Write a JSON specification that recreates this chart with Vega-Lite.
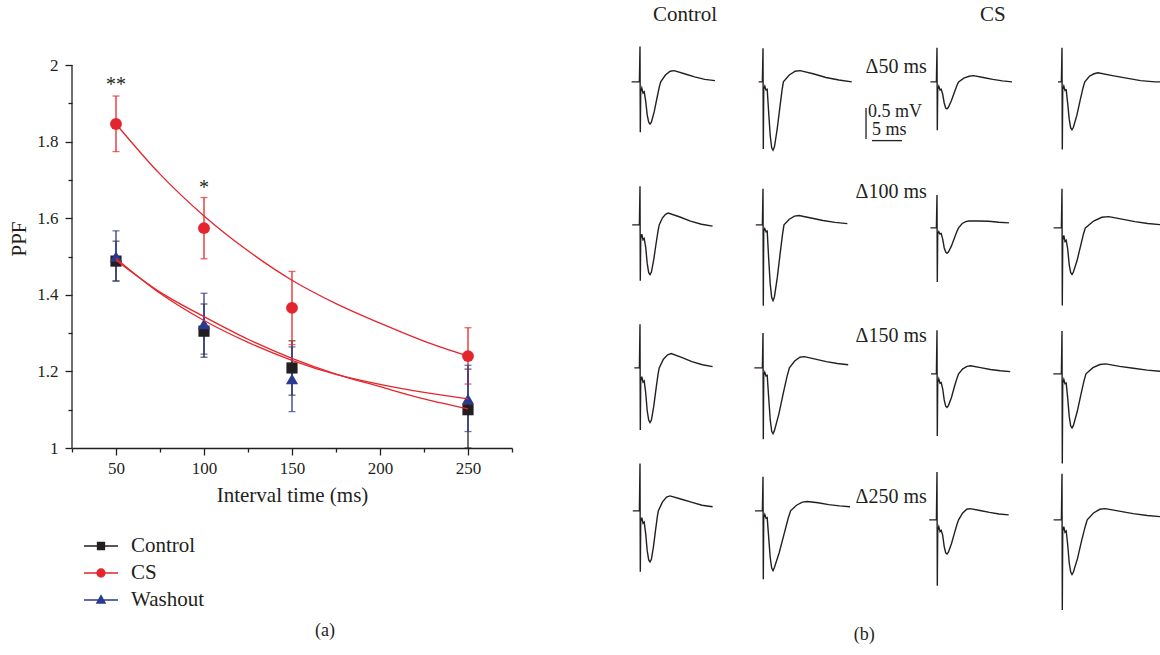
{
"$schema": "https://vega.github.io/schema/vega-lite/v6.json",
"background": "white",
"padding": {"left": 8, "top": 4, "right": 0, "bottom": 0},
"datasets": {
"pts": [
{"s":"Control","x":50,"y":1.488,"lo":1.436,"hi":1.54},
{"s":"Control","x":100,"y":1.305,"lo":1.237,"hi":1.376},
{"s":"Control","x":150,"y":1.209,"lo":1.138,"hi":1.28},
{"s":"Control","x":250,"y":1.1,"lo":1.0,"hi":1.206},
{"s":"CS","x":50,"y":1.846,"lo":1.774,"hi":1.919},
{"s":"CS","x":100,"y":1.574,"lo":1.494,"hi":1.654},
{"s":"CS","x":150,"y":1.366,"lo":1.27,"hi":1.461},
{"s":"CS","x":250,"y":1.24,"lo":1.167,"hi":1.314},
{"s":"Washout","x":50,"y":1.5,"lo":1.436,"hi":1.567},
{"s":"Washout","x":100,"y":1.324,"lo":1.245,"hi":1.404},
{"s":"Washout","x":150,"y":1.18,"lo":1.095,"hi":1.264},
{"s":"Washout","x":250,"y":1.128,"lo":1.043,"hi":1.216}
],
"fit": [
{"s":"CS","x":50,"y":1.846},{"s":"CS","x":75,"y":1.715},{"s":"CS","x":100,"y":1.606},{"s":"CS","x":125,"y":1.515},{"s":"CS","x":150,"y":1.438},{"s":"CS","x":175,"y":1.377},{"s":"CS","x":200,"y":1.326},{"s":"CS","x":225,"y":1.279},{"s":"CS","x":250,"y":1.24},
{"s":"Control","x":50,"y":1.49},{"s":"Control","x":75,"y":1.407},{"s":"Control","x":100,"y":1.343},{"s":"Control","x":125,"y":1.284},{"s":"Control","x":150,"y":1.234},{"s":"Control","x":175,"y":1.193},{"s":"Control","x":200,"y":1.16},{"s":"Control","x":225,"y":1.128},{"s":"Control","x":250,"y":1.102},
{"s":"Washout","x":50,"y":1.495},{"s":"Washout","x":75,"y":1.404},{"s":"Washout","x":100,"y":1.333},{"s":"Washout","x":125,"y":1.276},{"s":"Washout","x":150,"y":1.229},{"s":"Washout","x":175,"y":1.192},{"s":"Washout","x":200,"y":1.166},{"s":"Washout","x":225,"y":1.145},{"s":"Washout","x":250,"y":1.128}
],
"ann": [
{"x":50,"y":1.948,"txt":"**"},
{"x":100,"y":1.68,"txt":"*"}
],
"ctl": [
{"iv":"Δ50 ms","p":"1","t":-1.4,"v":0},{"iv":"Δ50 ms","p":"1","t":-0.1,"v":0},{"iv":"Δ50 ms","p":"1","t":0,"v":0.57},{"iv":"Δ50 ms","p":"1","t":0.05,"v":-0.81},{"iv":"Δ50 ms","p":"1","t":0.12,"v":-0.16},{"iv":"Δ50 ms","p":"1","t":0.3,"v":-0.1},{"iv":"Δ50 ms","p":"1","t":0.5,"v":-0.18},{"iv":"Δ50 ms","p":"1","t":0.7,"v":-0.16},{"iv":"Δ50 ms","p":"1","t":0.95,"v":-0.31},{"iv":"Δ50 ms","p":"1","t":1.2,"v":-0.53},{"iv":"Δ50 ms","p":"1","t":1.45,"v":-0.65},{"iv":"Δ50 ms","p":"1","t":1.67,"v":-0.68},{"iv":"Δ50 ms","p":"1","t":1.9,"v":-0.65},{"iv":"Δ50 ms","p":"1","t":2.37,"v":-0.48},{"iv":"Δ50 ms","p":"1","t":2.83,"v":-0.26},{"iv":"Δ50 ms","p":"1","t":3.22,"v":-0.08},{"iv":"Δ50 ms","p":"1","t":3.45,"v":0},{"iv":"Δ50 ms","p":"1","t":4.24,"v":0.11},{"iv":"Δ50 ms","p":"1","t":5.03,"v":0.17},{"iv":"Δ50 ms","p":"1","t":5.7,"v":0.18},{"iv":"Δ50 ms","p":"1","t":7.4,"v":0.13},{"iv":"Δ50 ms","p":"1","t":9.1,"v":0.08},{"iv":"Δ50 ms","p":"1","t":10.8,"v":0.04},{"iv":"Δ50 ms","p":"1","t":12.5,"v":0.02},
{"iv":"Δ50 ms","p":"2","t":-0.73,"v":0},{"iv":"Δ50 ms","p":"2","t":-0.1,"v":0},{"iv":"Δ50 ms","p":"2","t":0,"v":0.54},{"iv":"Δ50 ms","p":"2","t":0.05,"v":-1.08},{"iv":"Δ50 ms","p":"2","t":0.12,"v":-0.12},{"iv":"Δ50 ms","p":"2","t":0.3,"v":-0.07},{"iv":"Δ50 ms","p":"2","t":0.5,"v":-0.13},{"iv":"Δ50 ms","p":"2","t":0.7,"v":-0.12},{"iv":"Δ50 ms","p":"2","t":0.95,"v":-0.5},{"iv":"Δ50 ms","p":"2","t":1.2,"v":-0.86},{"iv":"Δ50 ms","p":"2","t":1.45,"v":-1.06},{"iv":"Δ50 ms","p":"2","t":1.67,"v":-1.1},{"iv":"Δ50 ms","p":"2","t":1.9,"v":-1.05},{"iv":"Δ50 ms","p":"2","t":2.35,"v":-0.77},{"iv":"Δ50 ms","p":"2","t":2.8,"v":-0.42},{"iv":"Δ50 ms","p":"2","t":3.18,"v":-0.13},{"iv":"Δ50 ms","p":"2","t":3.4,"v":0},{"iv":"Δ50 ms","p":"2","t":4.38,"v":0.11},{"iv":"Δ50 ms","p":"2","t":5.36,"v":0.17},{"iv":"Δ50 ms","p":"2","t":6.2,"v":0.18},{"iv":"Δ50 ms","p":"2","t":8.35,"v":0.13},{"iv":"Δ50 ms","p":"2","t":10.5,"v":0.07},{"iv":"Δ50 ms","p":"2","t":12.65,"v":0.03},{"iv":"Δ50 ms","p":"2","t":14.8,"v":0},
{"iv":"Δ100 ms","p":"1","t":-1.3,"v":0},{"iv":"Δ100 ms","p":"1","t":-0.1,"v":0},{"iv":"Δ100 ms","p":"1","t":0,"v":0.62},{"iv":"Δ100 ms","p":"1","t":0.05,"v":-0.9},{"iv":"Δ100 ms","p":"1","t":0.12,"v":-0.22},{"iv":"Δ100 ms","p":"1","t":0.3,"v":-0.15},{"iv":"Δ100 ms","p":"1","t":0.5,"v":-0.24},{"iv":"Δ100 ms","p":"1","t":0.7,"v":-0.22},{"iv":"Δ100 ms","p":"1","t":0.95,"v":-0.36},{"iv":"Δ100 ms","p":"1","t":1.2,"v":-0.62},{"iv":"Δ100 ms","p":"1","t":1.45,"v":-0.77},{"iv":"Δ100 ms","p":"1","t":1.67,"v":-0.8},{"iv":"Δ100 ms","p":"1","t":1.9,"v":-0.76},{"iv":"Δ100 ms","p":"1","t":2.29,"v":-0.56},{"iv":"Δ100 ms","p":"1","t":2.68,"v":-0.3},{"iv":"Δ100 ms","p":"1","t":3.0,"v":-0.1},{"iv":"Δ100 ms","p":"1","t":3.2,"v":0},{"iv":"Δ100 ms","p":"1","t":3.73,"v":0.11},{"iv":"Δ100 ms","p":"1","t":4.25,"v":0.17},{"iv":"Δ100 ms","p":"1","t":4.7,"v":0.19},{"iv":"Δ100 ms","p":"1","t":6.55,"v":0.13},{"iv":"Δ100 ms","p":"1","t":8.4,"v":0.06},{"iv":"Δ100 ms","p":"1","t":10.25,"v":0.01},{"iv":"Δ100 ms","p":"1","t":12.1,"v":-0.02},
{"iv":"Δ100 ms","p":"2","t":-1.2,"v":0},{"iv":"Δ100 ms","p":"2","t":-0.1,"v":0},{"iv":"Δ100 ms","p":"2","t":0,"v":0.58},{"iv":"Δ100 ms","p":"2","t":0.05,"v":-1.3},{"iv":"Δ100 ms","p":"2","t":0.12,"v":-0.1},{"iv":"Δ100 ms","p":"2","t":0.3,"v":-0.06},{"iv":"Δ100 ms","p":"2","t":0.5,"v":-0.11},{"iv":"Δ100 ms","p":"2","t":0.7,"v":-0.1},{"iv":"Δ100 ms","p":"2","t":0.95,"v":-0.55},{"iv":"Δ100 ms","p":"2","t":1.2,"v":-0.95},{"iv":"Δ100 ms","p":"2","t":1.45,"v":-1.17},{"iv":"Δ100 ms","p":"2","t":1.67,"v":-1.22},{"iv":"Δ100 ms","p":"2","t":1.9,"v":-1.16},{"iv":"Δ100 ms","p":"2","t":2.38,"v":-0.85},{"iv":"Δ100 ms","p":"2","t":2.86,"v":-0.46},{"iv":"Δ100 ms","p":"2","t":3.26,"v":-0.15},{"iv":"Δ100 ms","p":"2","t":3.5,"v":0},{"iv":"Δ100 ms","p":"2","t":4.38,"v":0.09},{"iv":"Δ100 ms","p":"2","t":5.25,"v":0.14},{"iv":"Δ100 ms","p":"2","t":6.0,"v":0.15},{"iv":"Δ100 ms","p":"2","t":8.0,"v":0.11},{"iv":"Δ100 ms","p":"2","t":10.0,"v":0.07},{"iv":"Δ100 ms","p":"2","t":12.0,"v":0.04},{"iv":"Δ100 ms","p":"2","t":14.05,"v":0.02},
{"iv":"Δ150 ms","p":"1","t":-0.95,"v":0},{"iv":"Δ150 ms","p":"1","t":-0.1,"v":0},{"iv":"Δ150 ms","p":"1","t":0,"v":0.7},{"iv":"Δ150 ms","p":"1","t":0.05,"v":-1.0},{"iv":"Δ150 ms","p":"1","t":0.12,"v":-0.21},{"iv":"Δ150 ms","p":"1","t":0.3,"v":-0.14},{"iv":"Δ150 ms","p":"1","t":0.5,"v":-0.23},{"iv":"Δ150 ms","p":"1","t":0.7,"v":-0.21},{"iv":"Δ150 ms","p":"1","t":0.95,"v":-0.4},{"iv":"Δ150 ms","p":"1","t":1.2,"v":-0.69},{"iv":"Δ150 ms","p":"1","t":1.45,"v":-0.84},{"iv":"Δ150 ms","p":"1","t":1.67,"v":-0.88},{"iv":"Δ150 ms","p":"1","t":1.9,"v":-0.84},{"iv":"Δ150 ms","p":"1","t":2.29,"v":-0.62},{"iv":"Δ150 ms","p":"1","t":2.68,"v":-0.33},{"iv":"Δ150 ms","p":"1","t":3.0,"v":-0.11},{"iv":"Δ150 ms","p":"1","t":3.2,"v":0},{"iv":"Δ150 ms","p":"1","t":3.9,"v":0.14},{"iv":"Δ150 ms","p":"1","t":4.6,"v":0.21},{"iv":"Δ150 ms","p":"1","t":5.2,"v":0.23},{"iv":"Δ150 ms","p":"1","t":6.93,"v":0.17},{"iv":"Δ150 ms","p":"1","t":8.65,"v":0.1},{"iv":"Δ150 ms","p":"1","t":10.4,"v":0.05},{"iv":"Δ150 ms","p":"1","t":12.1,"v":0.02},
{"iv":"Δ150 ms","p":"2","t":-1.45,"v":0},{"iv":"Δ150 ms","p":"2","t":-0.1,"v":0},{"iv":"Δ150 ms","p":"2","t":0,"v":0.56},{"iv":"Δ150 ms","p":"2","t":0.05,"v":-1.15},{"iv":"Δ150 ms","p":"2","t":0.12,"v":-0.12},{"iv":"Δ150 ms","p":"2","t":0.3,"v":-0.07},{"iv":"Δ150 ms","p":"2","t":0.5,"v":-0.13},{"iv":"Δ150 ms","p":"2","t":0.7,"v":-0.12},{"iv":"Δ150 ms","p":"2","t":0.95,"v":-0.48},{"iv":"Δ150 ms","p":"2","t":1.2,"v":-0.83},{"iv":"Δ150 ms","p":"2","t":1.45,"v":-1.02},{"iv":"Δ150 ms","p":"2","t":1.67,"v":-1.06},{"iv":"Δ150 ms","p":"2","t":1.9,"v":-1.01},{"iv":"Δ150 ms","p":"2","t":2.65,"v":-0.74},{"iv":"Δ150 ms","p":"2","t":3.4,"v":-0.4},{"iv":"Δ150 ms","p":"2","t":4.03,"v":-0.13},{"iv":"Δ150 ms","p":"2","t":4.4,"v":0},{"iv":"Δ150 ms","p":"2","t":5.28,"v":0.11},{"iv":"Δ150 ms","p":"2","t":6.15,"v":0.17},{"iv":"Δ150 ms","p":"2","t":6.9,"v":0.18},{"iv":"Δ150 ms","p":"2","t":8.73,"v":0.14},{"iv":"Δ150 ms","p":"2","t":10.55,"v":0.1},{"iv":"Δ150 ms","p":"2","t":12.38,"v":0.07},{"iv":"Δ150 ms","p":"2","t":14.2,"v":0.05},
{"iv":"Δ250 ms","p":"1","t":-1.2,"v":0},{"iv":"Δ250 ms","p":"1","t":-0.1,"v":0},{"iv":"Δ250 ms","p":"1","t":0,"v":0.76},{"iv":"Δ250 ms","p":"1","t":0.05,"v":-0.98},{"iv":"Δ250 ms","p":"1","t":0.12,"v":-0.17},{"iv":"Δ250 ms","p":"1","t":0.3,"v":-0.11},{"iv":"Δ250 ms","p":"1","t":0.5,"v":-0.2},{"iv":"Δ250 ms","p":"1","t":0.7,"v":-0.18},{"iv":"Δ250 ms","p":"1","t":0.95,"v":-0.37},{"iv":"Δ250 ms","p":"1","t":1.2,"v":-0.64},{"iv":"Δ250 ms","p":"1","t":1.45,"v":-0.79},{"iv":"Δ250 ms","p":"1","t":1.67,"v":-0.82},{"iv":"Δ250 ms","p":"1","t":1.9,"v":-0.78},{"iv":"Δ250 ms","p":"1","t":2.25,"v":-0.57},{"iv":"Δ250 ms","p":"1","t":2.59,"v":-0.31},{"iv":"Δ250 ms","p":"1","t":2.88,"v":-0.1},{"iv":"Δ250 ms","p":"1","t":3.05,"v":0},{"iv":"Δ250 ms","p":"1","t":3.73,"v":0.14},{"iv":"Δ250 ms","p":"1","t":4.42,"v":0.22},{"iv":"Δ250 ms","p":"1","t":5.0,"v":0.24},{"iv":"Δ250 ms","p":"1","t":6.78,"v":0.19},{"iv":"Δ250 ms","p":"1","t":8.55,"v":0.14},{"iv":"Δ250 ms","p":"1","t":10.33,"v":0.09},{"iv":"Δ250 ms","p":"1","t":12.1,"v":0.065},
{"iv":"Δ250 ms","p":"2","t":-1.33,"v":0},{"iv":"Δ250 ms","p":"2","t":-0.1,"v":0},{"iv":"Δ250 ms","p":"2","t":0,"v":0.55},{"iv":"Δ250 ms","p":"2","t":0.05,"v":-1.1},{"iv":"Δ250 ms","p":"2","t":0.12,"v":-0.11},{"iv":"Δ250 ms","p":"2","t":0.3,"v":-0.06},{"iv":"Δ250 ms","p":"2","t":0.5,"v":-0.12},{"iv":"Δ250 ms","p":"2","t":0.7,"v":-0.11},{"iv":"Δ250 ms","p":"2","t":0.95,"v":-0.43},{"iv":"Δ250 ms","p":"2","t":1.2,"v":-0.75},{"iv":"Δ250 ms","p":"2","t":1.45,"v":-0.92},{"iv":"Δ250 ms","p":"2","t":1.67,"v":-0.96},{"iv":"Δ250 ms","p":"2","t":1.9,"v":-0.91},{"iv":"Δ250 ms","p":"2","t":2.71,"v":-0.67},{"iv":"Δ250 ms","p":"2","t":3.52,"v":-0.37},{"iv":"Δ250 ms","p":"2","t":4.2,"v":-0.12},{"iv":"Δ250 ms","p":"2","t":4.6,"v":0},{"iv":"Δ250 ms","p":"2","t":5.58,"v":0.09},{"iv":"Δ250 ms","p":"2","t":6.56,"v":0.14},{"iv":"Δ250 ms","p":"2","t":7.4,"v":0.15},{"iv":"Δ250 ms","p":"2","t":9.18,"v":0.13},{"iv":"Δ250 ms","p":"2","t":10.95,"v":0.1},{"iv":"Δ250 ms","p":"2","t":12.73,"v":0.08},{"iv":"Δ250 ms","p":"2","t":14.5,"v":0.065}
],
"cs": [
{"iv":"Δ50 ms","p":"1","t":-1.1,"v":0},{"iv":"Δ50 ms","p":"1","t":-0.1,"v":0},{"iv":"Δ50 ms","p":"1","t":0,"v":0.55},{"iv":"Δ50 ms","p":"1","t":0.05,"v":-0.78},{"iv":"Δ50 ms","p":"1","t":0.12,"v":-0.12},{"iv":"Δ50 ms","p":"1","t":0.3,"v":-0.07},{"iv":"Δ50 ms","p":"1","t":0.5,"v":-0.13},{"iv":"Δ50 ms","p":"1","t":0.7,"v":-0.12},{"iv":"Δ50 ms","p":"1","t":0.95,"v":-0.2},{"iv":"Δ50 ms","p":"1","t":1.2,"v":-0.34},{"iv":"Δ50 ms","p":"1","t":1.45,"v":-0.42},{"iv":"Δ50 ms","p":"1","t":1.67,"v":-0.435},{"iv":"Δ50 ms","p":"1","t":1.9,"v":-0.41},{"iv":"Δ50 ms","p":"1","t":2.41,"v":-0.3},{"iv":"Δ50 ms","p":"1","t":2.92,"v":-0.165},{"iv":"Δ50 ms","p":"1","t":3.35,"v":-0.05},{"iv":"Δ50 ms","p":"1","t":3.6,"v":0},{"iv":"Δ50 ms","p":"1","t":4.48,"v":0.06},{"iv":"Δ50 ms","p":"1","t":5.35,"v":0.09},{"iv":"Δ50 ms","p":"1","t":6.1,"v":0.1},{"iv":"Δ50 ms","p":"1","t":7.7,"v":0.07},{"iv":"Δ50 ms","p":"1","t":9.3,"v":0.04},{"iv":"Δ50 ms","p":"1","t":10.9,"v":0.015},{"iv":"Δ50 ms","p":"1","t":12.5,"v":0},
{"iv":"Δ50 ms","p":"2","t":-0.67,"v":0},{"iv":"Δ50 ms","p":"2","t":-0.1,"v":0},{"iv":"Δ50 ms","p":"2","t":0,"v":0.55},{"iv":"Δ50 ms","p":"2","t":0.05,"v":-1.09},{"iv":"Δ50 ms","p":"2","t":0.12,"v":-0.12},{"iv":"Δ50 ms","p":"2","t":0.3,"v":-0.07},{"iv":"Δ50 ms","p":"2","t":0.5,"v":-0.14},{"iv":"Δ50 ms","p":"2","t":0.7,"v":-0.13},{"iv":"Δ50 ms","p":"2","t":0.95,"v":-0.35},{"iv":"Δ50 ms","p":"2","t":1.2,"v":-0.6},{"iv":"Δ50 ms","p":"2","t":1.45,"v":-0.74},{"iv":"Δ50 ms","p":"2","t":1.67,"v":-0.77},{"iv":"Δ50 ms","p":"2","t":1.9,"v":-0.73},{"iv":"Δ50 ms","p":"2","t":2.47,"v":-0.54},{"iv":"Δ50 ms","p":"2","t":3.04,"v":-0.29},{"iv":"Δ50 ms","p":"2","t":3.52,"v":-0.09},{"iv":"Δ50 ms","p":"2","t":3.8,"v":0},{"iv":"Δ50 ms","p":"2","t":4.57,"v":0.09},{"iv":"Δ50 ms","p":"2","t":5.34,"v":0.13},{"iv":"Δ50 ms","p":"2","t":6.0,"v":0.145},{"iv":"Δ50 ms","p":"2","t":8.4,"v":0.1},{"iv":"Δ50 ms","p":"2","t":10.75,"v":0.06},{"iv":"Δ50 ms","p":"2","t":13.1,"v":0.02},{"iv":"Δ50 ms","p":"2","t":15.5,"v":0},{"iv":"Δ50 ms","p":"2","t":16.5,"v":0},
{"iv":"Δ100 ms","p":"1","t":-1.1,"v":0},{"iv":"Δ100 ms","p":"1","t":-0.1,"v":0},{"iv":"Δ100 ms","p":"1","t":0,"v":0.53},{"iv":"Δ100 ms","p":"1","t":0.05,"v":-0.87},{"iv":"Δ100 ms","p":"1","t":0.12,"v":-0.1},{"iv":"Δ100 ms","p":"1","t":0.3,"v":-0.06},{"iv":"Δ100 ms","p":"1","t":0.5,"v":-0.1},{"iv":"Δ100 ms","p":"1","t":0.7,"v":-0.09},{"iv":"Δ100 ms","p":"1","t":0.95,"v":-0.18},{"iv":"Δ100 ms","p":"1","t":1.2,"v":-0.32},{"iv":"Δ100 ms","p":"1","t":1.45,"v":-0.39},{"iv":"Δ100 ms","p":"1","t":1.67,"v":-0.41},{"iv":"Δ100 ms","p":"1","t":1.9,"v":-0.39},{"iv":"Δ100 ms","p":"1","t":2.41,"v":-0.29},{"iv":"Δ100 ms","p":"1","t":2.92,"v":-0.16},{"iv":"Δ100 ms","p":"1","t":3.35,"v":-0.05},{"iv":"Δ100 ms","p":"1","t":3.6,"v":0},{"iv":"Δ100 ms","p":"1","t":4.2,"v":0.07},{"iv":"Δ100 ms","p":"1","t":4.8,"v":0.1},{"iv":"Δ100 ms","p":"1","t":5.3,"v":0.11},{"iv":"Δ100 ms","p":"1","t":7.0,"v":0.11},{"iv":"Δ100 ms","p":"1","t":8.65,"v":0.105},{"iv":"Δ100 ms","p":"1","t":10.3,"v":0.09},{"iv":"Δ100 ms","p":"1","t":12.0,"v":0.08},
{"iv":"Δ100 ms","p":"2","t":-1.4,"v":0},{"iv":"Δ100 ms","p":"2","t":-0.1,"v":0},{"iv":"Δ100 ms","p":"2","t":0,"v":0.63},{"iv":"Δ100 ms","p":"2","t":0.05,"v":-1.25},{"iv":"Δ100 ms","p":"2","t":0.12,"v":-0.2},{"iv":"Δ100 ms","p":"2","t":0.3,"v":-0.12},{"iv":"Δ100 ms","p":"2","t":0.5,"v":-0.22},{"iv":"Δ100 ms","p":"2","t":0.7,"v":-0.2},{"iv":"Δ100 ms","p":"2","t":0.95,"v":-0.34},{"iv":"Δ100 ms","p":"2","t":1.2,"v":-0.59},{"iv":"Δ100 ms","p":"2","t":1.45,"v":-0.72},{"iv":"Δ100 ms","p":"2","t":1.67,"v":-0.75},{"iv":"Δ100 ms","p":"2","t":1.9,"v":-0.71},{"iv":"Δ100 ms","p":"2","t":2.5,"v":-0.53},{"iv":"Δ100 ms","p":"2","t":3.1,"v":-0.29},{"iv":"Δ100 ms","p":"2","t":3.6,"v":-0.09},{"iv":"Δ100 ms","p":"2","t":3.9,"v":0},{"iv":"Δ100 ms","p":"2","t":5.27,"v":0.11},{"iv":"Δ100 ms","p":"2","t":6.63,"v":0.17},{"iv":"Δ100 ms","p":"2","t":7.8,"v":0.18},{"iv":"Δ100 ms","p":"2","t":9.98,"v":0.14},{"iv":"Δ100 ms","p":"2","t":12.15,"v":0.1},{"iv":"Δ100 ms","p":"2","t":14.3,"v":0.07},{"iv":"Δ100 ms","p":"2","t":16.5,"v":0.05},
{"iv":"Δ150 ms","p":"1","t":-1,"v":0},{"iv":"Δ150 ms","p":"1","t":-0.1,"v":0},{"iv":"Δ150 ms","p":"1","t":0,"v":0.7},{"iv":"Δ150 ms","p":"1","t":0.05,"v":-1.0},{"iv":"Δ150 ms","p":"1","t":0.12,"v":-0.14},{"iv":"Δ150 ms","p":"1","t":0.3,"v":-0.08},{"iv":"Δ150 ms","p":"1","t":0.5,"v":-0.15},{"iv":"Δ150 ms","p":"1","t":0.7,"v":-0.14},{"iv":"Δ150 ms","p":"1","t":0.95,"v":-0.24},{"iv":"Δ150 ms","p":"1","t":1.2,"v":-0.42},{"iv":"Δ150 ms","p":"1","t":1.45,"v":-0.52},{"iv":"Δ150 ms","p":"1","t":1.67,"v":-0.54},{"iv":"Δ150 ms","p":"1","t":1.9,"v":-0.51},{"iv":"Δ150 ms","p":"1","t":2.41,"v":-0.38},{"iv":"Δ150 ms","p":"1","t":2.92,"v":-0.2},{"iv":"Δ150 ms","p":"1","t":3.35,"v":-0.065},{"iv":"Δ150 ms","p":"1","t":3.6,"v":0},{"iv":"Δ150 ms","p":"1","t":4.3,"v":0.08},{"iv":"Δ150 ms","p":"1","t":5.0,"v":0.12},{"iv":"Δ150 ms","p":"1","t":5.6,"v":0.13},{"iv":"Δ150 ms","p":"1","t":7.25,"v":0.1},{"iv":"Δ150 ms","p":"1","t":8.9,"v":0.07},{"iv":"Δ150 ms","p":"1","t":10.55,"v":0.05},{"iv":"Δ150 ms","p":"1","t":12.2,"v":0.035},
{"iv":"Δ150 ms","p":"2","t":-1.45,"v":0},{"iv":"Δ150 ms","p":"2","t":-0.1,"v":0},{"iv":"Δ150 ms","p":"2","t":0,"v":0.69},{"iv":"Δ150 ms","p":"2","t":0.05,"v":-1.44},{"iv":"Δ150 ms","p":"2","t":0.12,"v":-0.15},{"iv":"Δ150 ms","p":"2","t":0.3,"v":-0.09},{"iv":"Δ150 ms","p":"2","t":0.5,"v":-0.16},{"iv":"Δ150 ms","p":"2","t":0.7,"v":-0.15},{"iv":"Δ150 ms","p":"2","t":0.95,"v":-0.39},{"iv":"Δ150 ms","p":"2","t":1.2,"v":-0.68},{"iv":"Δ150 ms","p":"2","t":1.45,"v":-0.84},{"iv":"Δ150 ms","p":"2","t":1.67,"v":-0.87},{"iv":"Δ150 ms","p":"2","t":1.9,"v":-0.83},{"iv":"Δ150 ms","p":"2","t":2.53,"v":-0.61},{"iv":"Δ150 ms","p":"2","t":3.16,"v":-0.33},{"iv":"Δ150 ms","p":"2","t":3.69,"v":-0.1},{"iv":"Δ150 ms","p":"2","t":4.0,"v":0},{"iv":"Δ150 ms","p":"2","t":5.16,"v":0.1},{"iv":"Δ150 ms","p":"2","t":6.31,"v":0.15},{"iv":"Δ150 ms","p":"2","t":7.3,"v":0.16},{"iv":"Δ150 ms","p":"2","t":9.6,"v":0.12},{"iv":"Δ150 ms","p":"2","t":11.9,"v":0.09},{"iv":"Δ150 ms","p":"2","t":14.2,"v":0.06},{"iv":"Δ150 ms","p":"2","t":16.5,"v":0.04},
{"iv":"Δ250 ms","p":"1","t":-1.3,"v":0},{"iv":"Δ250 ms","p":"1","t":-0.1,"v":0},{"iv":"Δ250 ms","p":"1","t":0,"v":0.77},{"iv":"Δ250 ms","p":"1","t":0.05,"v":-1.06},{"iv":"Δ250 ms","p":"1","t":0.12,"v":-0.17},{"iv":"Δ250 ms","p":"1","t":0.3,"v":-0.11},{"iv":"Δ250 ms","p":"1","t":0.5,"v":-0.19},{"iv":"Δ250 ms","p":"1","t":0.7,"v":-0.17},{"iv":"Δ250 ms","p":"1","t":0.95,"v":-0.25},{"iv":"Δ250 ms","p":"1","t":1.2,"v":-0.43},{"iv":"Δ250 ms","p":"1","t":1.45,"v":-0.53},{"iv":"Δ250 ms","p":"1","t":1.67,"v":-0.55},{"iv":"Δ250 ms","p":"1","t":1.9,"v":-0.52},{"iv":"Δ250 ms","p":"1","t":2.41,"v":-0.385},{"iv":"Δ250 ms","p":"1","t":2.92,"v":-0.21},{"iv":"Δ250 ms","p":"1","t":3.35,"v":-0.066},{"iv":"Δ250 ms","p":"1","t":3.6,"v":0},{"iv":"Δ250 ms","p":"1","t":4.28,"v":0.11},{"iv":"Δ250 ms","p":"1","t":4.97,"v":0.17},{"iv":"Δ250 ms","p":"1","t":5.55,"v":0.18},{"iv":"Δ250 ms","p":"1","t":7.15,"v":0.15},{"iv":"Δ250 ms","p":"1","t":8.75,"v":0.12},{"iv":"Δ250 ms","p":"1","t":10.35,"v":0.095},{"iv":"Δ250 ms","p":"1","t":11.95,"v":0.08},
{"iv":"Δ250 ms","p":"2","t":-1.4,"v":0},{"iv":"Δ250 ms","p":"2","t":-0.1,"v":0},{"iv":"Δ250 ms","p":"2","t":0,"v":0.74},{"iv":"Δ250 ms","p":"2","t":0.05,"v":-1.45},{"iv":"Δ250 ms","p":"2","t":0.12,"v":-0.18},{"iv":"Δ250 ms","p":"2","t":0.3,"v":-0.11},{"iv":"Δ250 ms","p":"2","t":0.5,"v":-0.2},{"iv":"Δ250 ms","p":"2","t":0.7,"v":-0.18},{"iv":"Δ250 ms","p":"2","t":0.95,"v":-0.4},{"iv":"Δ250 ms","p":"2","t":1.2,"v":-0.69},{"iv":"Δ250 ms","p":"2","t":1.45,"v":-0.84},{"iv":"Δ250 ms","p":"2","t":1.67,"v":-0.88},{"iv":"Δ250 ms","p":"2","t":1.9,"v":-0.84},{"iv":"Δ250 ms","p":"2","t":2.59,"v":-0.62},{"iv":"Δ250 ms","p":"2","t":3.28,"v":-0.33},{"iv":"Δ250 ms","p":"2","t":3.86,"v":-0.11},{"iv":"Δ250 ms","p":"2","t":4.2,"v":0},{"iv":"Δ250 ms","p":"2","t":5.25,"v":0.11},{"iv":"Δ250 ms","p":"2","t":6.3,"v":0.17},{"iv":"Δ250 ms","p":"2","t":7.2,"v":0.18},{"iv":"Δ250 ms","p":"2","t":9.53,"v":0.14},{"iv":"Δ250 ms","p":"2","t":11.85,"v":0.1},{"iv":"Δ250 ms","p":"2","t":14.2,"v":0.07},{"iv":"Δ250 ms","p":"2","t":16.5,"v":0.05},
{"iv":"Δ50 ms","p":"1","sb":"r","t":-11.83,"t2":-11.83,"v":-0.42,"v2":-0.92},
{"iv":"Δ50 ms","p":"1","sb":"r","t":-10.83,"t2":-5.83,"v":-0.945,"v2":-0.945},
{"iv":"Δ50 ms","p":"1","sb":"x","t":-11.5,"v":-0.56,"txt":"0.5 mV"},
{"iv":"Δ50 ms","p":"1","sb":"x","t":-10.83,"v":-0.86,"txt":"5 ms"},
{"iv":"Δ50 ms","p":"1","sb":"l","t":-1.7,"v":0.24,"txt":"Δ50 ms"},
{"iv":"Δ100 ms","p":"1","sb":"l","t":-1.7,"v":0.58,"txt":"Δ100 ms"},
{"iv":"Δ150 ms","p":"1","sb":"l","t":-1.7,"v":0.61,"txt":"Δ150 ms"},
{"iv":"Δ250 ms","p":"1","sb":"l","t":-1.7,"v":0.37,"txt":"Δ250 ms"}
]
},
"hconcat": [
{
"width": 440,
"height": 419,
"title": {"text": "(a)", "orient": "bottom", "anchor": "middle", "frame": "group", "dx": 33, "offset": 117, "fontSize": 18},
"resolve": {"axis": {"x": "independent", "y": "independent"}},
"layer": [
{
"data": {"values": [{}]},
"mark": {"type": "rule", "color": "#231f20", "strokeWidth": 1.3},
"encoding": {
"x": {"datum": 25, "type": "quantitative", "axis": null},
"y": {"datum": 1, "type": "quantitative", "axis": null},
"y2": {"datum": 2}
}
},
{
"data": {"name": "pts"},
"transform": [{"filter": "datum.s === 'Control'"}],
"mark": {"type": "errorbar", "ticks": {"size": 7}, "thickness": 1.3, "color": "#231f20"},
"encoding": {
"x": {"field": "x", "type": "quantitative", "scale": {"domain": [25, 275], "nice": false, "zero": false}, "axis": {"values": [50, 100, 150, 200, 250], "title": "Interval time (ms)", "tickSize": 7, "labelPadding": 5, "titlePadding": 8, "labelFlush": false}},
"y": {"field": "lo", "type": "quantitative", "scale": {"domain": [1, 2.094], "nice": false, "zero": false}, "axis": {"values": [1, 1.2, 1.4, 1.6, 1.8, 2], "format": ".1~f", "title": "PPF", "tickSize": 7, "labelPadding": 7, "titlePadding": 7, "domain": false}},
"y2": {"field": "hi"}
}
},
{
"data": {"name": "pts"},
"transform": [{"filter": "datum.s === 'CS'"}],
"mark": {"type": "errorbar", "ticks": {"size": 7}, "thickness": 1.3, "color": "#e4262c"},
"encoding": {
"x": {"field": "x", "type": "quantitative", "axis": {"values": [25, 75, 125, 175, 225, 275], "labels": false, "title": null, "domain": false, "tickSize": 4, "orient": "bottom"}},
"y": {"field": "lo", "type": "quantitative", "axis": {"values": [1.1, 1.3, 1.5, 1.7, 1.9], "labels": false, "title": null, "domain": false, "tickSize": 4, "orient": "left"}},
"y2": {"field": "hi"}
}
},
{
"data": {"name": "pts"},
"transform": [{"filter": "datum.s === 'Washout'"}],
"mark": {"type": "errorbar", "ticks": {"size": 7}, "thickness": 1.3, "color": "#2b3a8f"},
"encoding": {
"x": {"field": "x", "type": "quantitative", "axis": null},
"y": {"field": "lo", "type": "quantitative", "axis": null},
"y2": {"field": "hi"}
}
},
{
"data": {"name": "pts"},
"transform": [{"filter": "datum.s === 'Control'"}],
"mark": {"type": "point", "shape": "square", "filled": true, "opacity": 1, "size": 125, "color": "#231f20"},
"encoding": {
"x": {"field": "x", "type": "quantitative", "axis": null},
"y": {"field": "y", "type": "quantitative", "axis": null}
}
},
{
"data": {"name": "pts"},
"transform": [{"filter": "datum.s === 'CS'"}],
"mark": {"type": "point", "shape": "circle", "filled": true, "opacity": 1, "size": 140, "color": "#e4262c"},
"encoding": {
"x": {"field": "x", "type": "quantitative", "axis": null},
"y": {"field": "y", "type": "quantitative", "axis": null}
}
},
{
"data": {"name": "pts"},
"transform": [{"filter": "datum.s === 'Washout'"}],
"mark": {"type": "point", "shape": "triangle-up", "filled": true, "opacity": 1, "size": 150, "color": "#2b3a8f"},
"encoding": {
"x": {"field": "x", "type": "quantitative", "axis": null},
"y": {"field": "y", "type": "quantitative", "axis": null}
}
},
{
"data": {"name": "fit"},
"mark": {"type": "line", "color": "#e4262c", "strokeWidth": 1.3, "interpolate": "monotone"},
"encoding": {
"x": {"field": "x", "type": "quantitative", "axis": null},
"y": {"field": "y", "type": "quantitative", "axis": null},
"detail": {"field": "s", "type": "nominal"}
}
},
{
"data": {"name": "ann"},
"mark": {"type": "text", "fontSize": 20, "font": "Liberation Serif", "color": "#231f20", "baseline": "middle"},
"encoding": {
"x": {"field": "x", "type": "quantitative", "axis": null},
"y": {"field": "y", "type": "quantitative", "axis": null},
"text": {"field": "txt"}
}
},
{
"data": {"values": []},
"mark": {"type": "point", "filled": false, "opacity": 1, "strokeWidth": 1.3},
"encoding": {
"x": {"field": "x", "type": "quantitative", "axis": null},
"y": {"field": "y", "type": "quantitative", "axis": null},
"color": {"field": "s", "type": "nominal", "scale": {"domain": ["Control", "CS", "Washout"], "range": ["#231f20", "#e4262c", "#2b3a8f"]}, "legend": {"title": null, "orient": "none", "legendX": 18, "legendY": 506, "symbolSize": 400, "labelFontSize": 21, "labelFont": "Liberation Serif", "labelColor": "#231f20", "labelOffset": 19, "rowPadding": 6, "padding": 0, "symbolStrokeWidth": 1.3, "symbolOpacity": 1}},
"fill": {"field": "s", "type": "nominal", "scale": {"domain": ["Control", "CS", "Washout"], "range": ["#231f20", "#e4262c", "#2b3a8f"]}},
"shape": {"field": "s", "type": "nominal", "scale": {"domain": ["Control", "CS", "Washout"], "range": ["M-1.7,0H1.7M-0.35,-0.35H0.35V0.35H-0.35Z", "M-1.7,0H1.7M-0.4,0A0.4,0.4 0 1,0 0.4,0A0.4,0.4 0 1,0 -0.4,0Z", "M-1.7,0H1.7M0,-0.45L0.42,0.3H-0.42Z"]}}
}
}
]
},
{
"title": {"text": "(b)", "orient": "bottom", "anchor": "middle", "dx": -32, "offset": 13, "fontSize": 18},
"spacing": 0,
"hconcat": [
{
"data": {"name": "ctl"},
"title": {"text": "Control", "anchor": "start", "frame": "group", "dx": 22, "offset": 4},
"facet": {
"row": {"field": "iv", "type": "nominal", "sort": ["Δ50 ms", "Δ100 ms", "Δ150 ms", "Δ250 ms"], "header": {"labels": false, "title": null}},
"column": {"field": "p", "type": "nominal", "header": {"labels": false, "title": null}}
},
"spacing": {"row": 0, "column": 19},
"spec": {
"width": 99,
"height": 143,
"mark": {"type": "line", "color": "#231f20", "strokeWidth": 1.4},
"encoding": {
"x": {"field": "t", "type": "quantitative", "scale": {"domain": [-1.5, 15], "nice": false, "zero": false}, "axis": null},
"y": {"field": "v", "type": "quantitative", "scale": {"domain": [-1.45, 0.85], "nice": false, "zero": false}, "axis": null}
}
}
},
{
"data": {"name": "cs"},
"title": {"text": "CS", "anchor": "start", "frame": "group", "dx": 52, "offset": 4},
"facet": {
"row": {"field": "iv", "type": "nominal", "sort": ["Δ50 ms", "Δ100 ms", "Δ150 ms", "Δ250 ms"], "header": {"labels": false, "title": null}},
"column": {"field": "p", "type": "nominal", "header": {"labels": false, "title": null}}
},
"spacing": {"row": 0, "column": 11},
"spec": {
"width": 108,
"height": 143,
"layer": [
{
"transform": [{"filter": "!datum.sb"}],
"mark": {"type": "line", "color": "#231f20", "strokeWidth": 1.4},
"encoding": {
"x": {"field": "t", "type": "quantitative", "scale": {"domain": [-1.5, 16.5], "nice": false, "zero": false}, "axis": null},
"y": {"field": "v", "type": "quantitative", "scale": {"domain": [-1.45, 0.85], "nice": false, "zero": false}, "axis": null}
}
},
{
"transform": [{"filter": "datum.sb === 'r'"}],
"mark": {"type": "rule", "color": "#231f20", "strokeWidth": 1.3},
"encoding": {
"x": {"field": "t", "type": "quantitative"},
"x2": {"field": "t2"},
"y": {"field": "v", "type": "quantitative"},
"y2": {"field": "v2"}
}
},
{
"transform": [{"filter": "datum.sb === 'x'"}],
"mark": {"type": "text", "align": "left", "baseline": "alphabetic", "font": "Liberation Serif", "fontSize": 18, "color": "#231f20"},
"encoding": {
"x": {"field": "t", "type": "quantitative"},
"y": {"field": "v", "type": "quantitative"},
"text": {"field": "txt"}
}
},
{
"transform": [{"filter": "datum.sb === 'l'"}],
"mark": {"type": "text", "align": "right", "baseline": "middle", "font": "Liberation Serif", "fontSize": 20, "color": "#231f20"},
"encoding": {
"x": {"field": "t", "type": "quantitative"},
"y": {"field": "v", "type": "quantitative"},
"text": {"field": "txt"}
}
}
]
}
}
]
}
],
"spacing": 115,
"config": {
"view": {"stroke": null},
"font": "Liberation Serif",
"axis": {"labelFont": "Liberation Serif", "titleFont": "Liberation Serif", "labelFontSize": 17, "titleFontSize": 21, "titleFontWeight": "normal", "labelColor": "#231f20", "titleColor": "#231f20", "domainColor": "#231f20", "tickColor": "#231f20", "domainWidth": 1.3, "tickWidth": 1.3, "grid": false},
"title": {"font": "Liberation Serif", "fontSize": 21, "fontWeight": "normal", "color": "#231f20"}
}
}
